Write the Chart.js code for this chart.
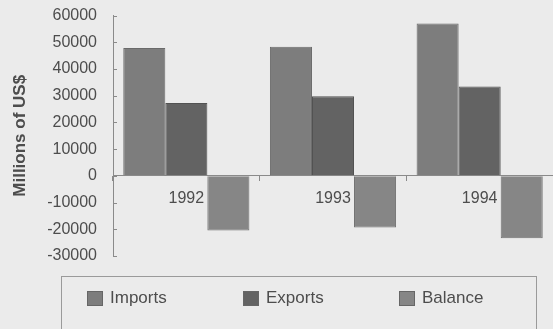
<!DOCTYPE html>
<html>
<head>
<meta charset="utf-8">
<script src="https://cdn.jsdelivr.net/npm/chart.js@4/dist/chart.umd.min.js"></script>
<style>
    html, body {
        margin: 0;
        padding: 0;
        background: #ebebeb;
    }
    #wrap {
        position: relative;
        width: 553px;
        height: 329px;
        overflow: hidden;
    }
    #tradeLegend {
        position: absolute;
        left: 61px;
        top: 276px;
        width: 476px;
        height: 80px;
        border: 1px solid #9a9a9a;
        box-sizing: border-box;
        font-family: "Liberation Sans", Arial, sans-serif;
        font-size: 17px;
        color: #4d4d4d;
    }
    .legend-item {
        position: absolute;
        top: 11px;
        display: flex;
        align-items: center;
    }
    .legend-swatch {
        width: 16px;
        height: 15px;
        margin-right: 7px;
        box-sizing: border-box;
        border: 1px solid #666;
    }
</style>
</head>
<body>
<div id="wrap">
    <canvas id="tradeChart" width="553" height="329"></canvas>
    <div id="tradeLegend"></div>
</div>
<script>
// Trade figures, millions of US$
const years = ['1992', '1993', '1994'];
const imports = [47900, 48300, 57000];
const exportsUS = [27300, 29800, 33500];
const balance = [-20500, -19300, -23400];

const seriesNames = ['Imports', 'Exports', 'Balance'];
const seriesColors = ['#7d7d7d', '#636363', '#868686'];
const seriesEdges = ['#6a6a6a', '#525252', '#717171'];

const legendOffsets = [25, 181, 337];

const textColor = '#4d4d4d';
const axisColor = '#8a8a8a';
const baseFont = { family: '"Liberation Sans", Arial, sans-serif', size: 16 };

function buildDatasets() {
    const values = [imports, exportsUS, balance];
    return values.map((data, i) => ({
        label: seriesNames[i],
        data: data,
        backgroundColor: seriesColors[i],
        borderColor: seriesEdges[i],
        borderWidth: 1,
        categoryPercentage: 0.86,
        barPercentage: 1.0
    }));
}

// Short tick marks on the inner side of the value axis
const innerTicks = {
    id: 'innerTicks',
    afterDraw(chart) {
        const y = chart.scales.y;
        const c = chart.ctx;
        c.save();
        c.strokeStyle = axisColor;
        c.lineWidth = 1;
        y.ticks.forEach(t => {
            const py = Math.round(y.getPixelForValue(t.value)) + 0.5;
            c.beginPath();
            c.moveTo(y.right, py);
            c.lineTo(y.right + 4, py);
            c.stroke();
        });
        c.restore();
    }
};

// Boxed legend under the plot, items spaced evenly
function buildLegend(chart) {
    const box = document.getElementById('tradeLegend');
    chart.data.datasets.forEach((ds, i) => {
        const item = document.createElement('div');
        item.className = 'legend-item';
        item.style.left = legendOffsets[i] + 'px';
        const swatch = document.createElement('span');
        swatch.className = 'legend-swatch';
        swatch.style.background = ds.backgroundColor;
        const text = document.createElement('span');
        text.textContent = ds.label;
        item.appendChild(swatch);
        item.appendChild(text);
        box.appendChild(item);
    });
}

const ctx = document.getElementById('tradeChart').getContext('2d');
const chart = new Chart(ctx, {
    type: 'bar',
    data: {
        labels: years,
        datasets: buildDatasets()
    },
    options: {
        responsive: false,
        animation: false,
        layout: {
            padding: { left: 0, top: 12, right: 0, bottom: 73 }
        },
        plugins: {
            legend: { display: false },
            tooltip: { enabled: false }
        },
        scales: {
            x: {
                position: { y: 0 },
                offset: true,
                grid: {
                    offset: true,
                    drawOnChartArea: false,
                    drawTicks: true,
                    tickLength: 5,
                    color: axisColor
                },
                border: { color: axisColor, width: 1 },
                ticks: {
                    color: textColor,
                    font: baseFont,
                    padding: 8
                }
            },
            y: {
                min: -30000,
                max: 60000,
                ticks: {
                    stepSize: 10000,
                    color: textColor,
                    font: baseFont,
                    padding: 6,
                    callback: (value) => String(value)
                },
                grid: {
                    drawOnChartArea: false,
                    drawTicks: true,
                    tickLength: 10,
                    tickColor: 'rgba(0,0,0,0)'
                },
                border: { color: axisColor, width: 1 },
                title: {
                    display: true,
                    text: 'Millions of US$',
                    color: textColor,
                    font: { family: '"Liberation Sans", Arial, sans-serif', size: 17, weight: 'bold' },
                    padding: { top: 10, bottom: 0 }
                },
                afterFit: (scale) => {
                    scale.width = 113;
                }
            }
        }
    },
    plugins: [innerTicks]
});

buildLegend(chart);
</script>
</body>
</html>
